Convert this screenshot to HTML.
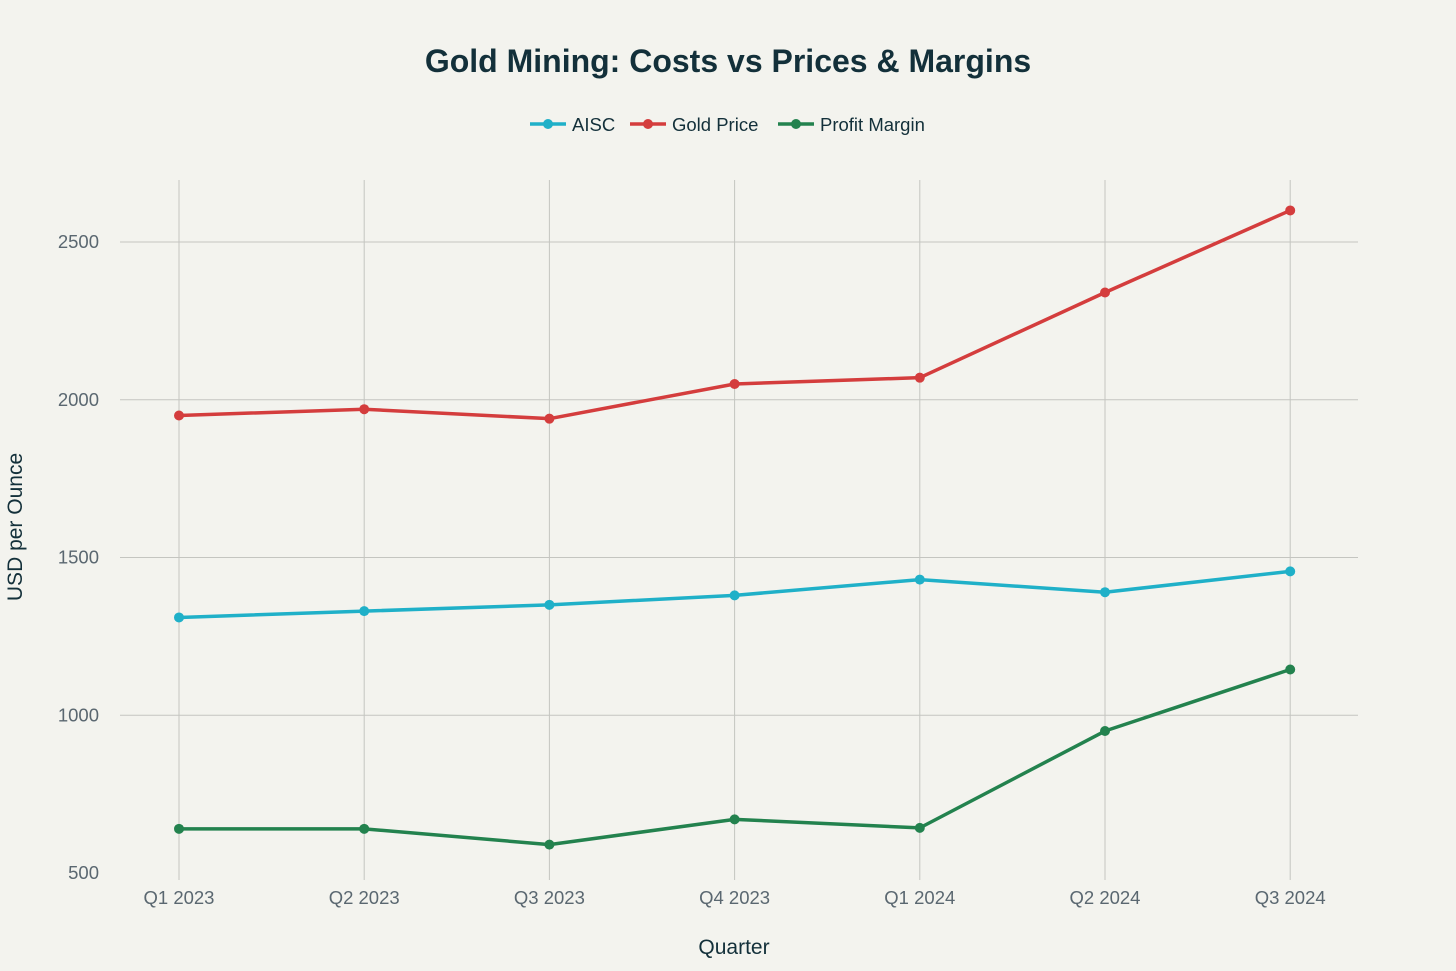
<!DOCTYPE html>
<html><head><meta charset="utf-8">
<style>
body{margin:0;background:#f3f3ee;font-family:"Liberation Sans",sans-serif;}
svg{display:block}
</style></head>
<body>
<svg id="chart" width="1456" height="971" xmlns="http://www.w3.org/2000/svg">
<rect width="1456" height="971" fill="#f3f3ee"/>
<text x="728" y="72" text-anchor="middle" font-size="32" font-weight="bold" fill="#13303a">Gold Mining: Costs vs Prices &amp; Margins</text>
<g id="legend"></g>
<g id="grid"></g>
<g id="series"></g>
<text x="734" y="954" text-anchor="middle" font-size="21" fill="#13303a">Quarter</text>
<text transform="translate(22,527) rotate(-90)" text-anchor="middle" font-size="21" fill="#13303a">USD per Ounce</text>
</svg>
<script>
const categories=["Q1 2023","Q2 2023","Q3 2023","Q4 2023","Q1 2024","Q2 2024","Q3 2024"];
const aisc=[1310,1330,1350,1380,1430,1390,1456];
const goldPrice=[1950,1970,1940,2050,2070,2340,2600];
const profitMargin=[640,640,590,670,643,950,1145];
const yTicks=[500,1000,1500,2000,2500];
const seriesNames=["AISC","Gold Price","Profit Margin"];
const NS="http://www.w3.org/2000/svg";
const x0=179,xStep=185.2,plotL=120,plotR=1358,plotT=180,plotB=880;
const xs=i=>x0+i*xStep;
const ys=v=>873-(v-500)*(157.75/500);
function mk(tag,attrs,parent){const e=document.createElementNS(NS,tag);for(const k in attrs)e.setAttribute(k,attrs[k]);parent.appendChild(e);return e;}
const grid=document.getElementById('grid');
yTicks.forEach(t=>{
  if(t>500){const l=mk('line',{x1:plotL,x2:plotR,y1:ys(t),y2:ys(t),stroke:'#c4c5c0','stroke-width':1},grid);
  
  }
  const tx=mk('text',{x:99,y:ys(t)+6,'text-anchor':'end','font-size':18.5,fill:'#5a6770'},grid);
  tx.textContent=t;
  
  
});
categories.forEach((c,i)=>{
  const l=mk('line',{x1:xs(i),x2:xs(i),y1:plotT,y2:plotB,stroke:'#c4c5c0','stroke-width':1},grid);
  
  
  const tx=mk('text',{x:xs(i),y:904,'text-anchor':'middle','font-size':18.5,fill:'#5a6770'},grid);
  tx.textContent=c;
  
  
});
const colors=["#1fb0c8","#d43d3d","#23824e"];
const data=[aisc,goldPrice,profitMargin];
const sg=document.getElementById('series');
data.forEach((arr,s)=>{
  const p=mk('polyline',{points:arr.map((v,i)=>xs(i)+','+ys(v)).join(' '),fill:'none',stroke:colors[s],'stroke-width':3.5,'stroke-linejoin':'round'},sg);
  
  
  arr.forEach((v,i)=>{
    const c=mk('circle',{cx:xs(i),cy:ys(v),r:5,fill:colors[s]},sg);
    
    
  });
});
const lg=document.getElementById('legend');
const lx=[530,630,778];
seriesNames.forEach((n,s)=>{
  const g=mk('g',{},lg);
  
  
  mk('line',{x1:lx[s],x2:lx[s]+36,y1:124,y2:124,stroke:colors[s],'stroke-width':3.5},g);
  mk('circle',{cx:lx[s]+18,cy:124,r:5,fill:colors[s]},g);
  const t=mk('text',{x:lx[s]+42,y:131,'font-size':18.5,fill:'#13303a'},g);
  t.textContent=n;
});
</script>
</body></html>
